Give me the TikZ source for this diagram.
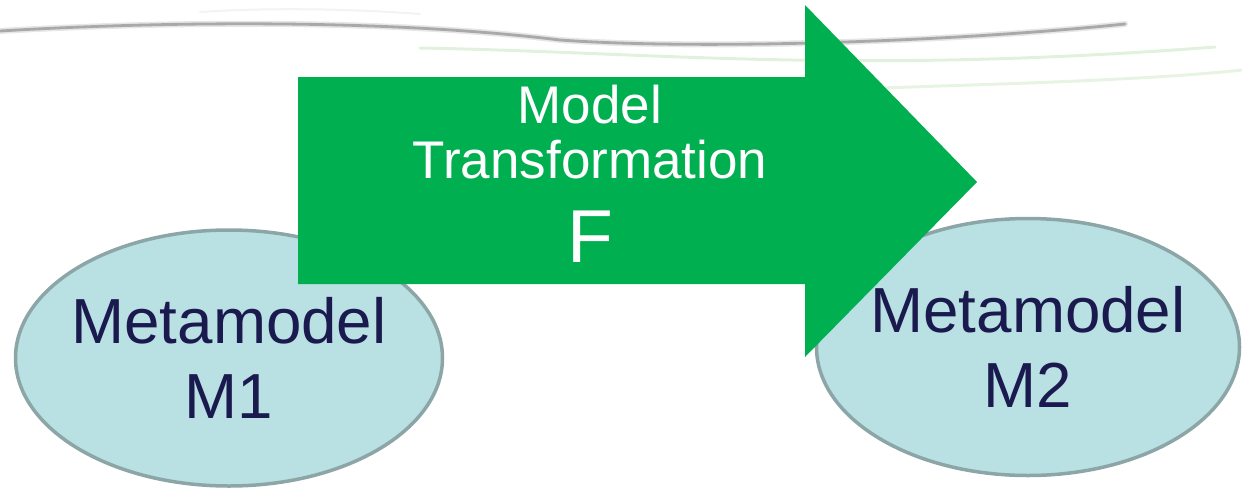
\documentclass[tikz,border=0pt]{standalone}
\usepackage{fontspec}
\setmainfont{Liberation Sans}
\definecolor{arrowgreen}{HTML}{00B050}
\definecolor{mmfill}{HTML}{B9E0E3}
\definecolor{mmedge}{HTML}{8CA6A7}
\definecolor{mmtext}{HTML}{1B1A4F}
\definecolor{swgray}{HTML}{9A9A9A}
\definecolor{swgreen}{HTML}{CFE8C8}
\usetikzlibrary{shapes.geometric}
\tikzset{
  metamodel/.style={ellipse, draw=mmedge, fill=mmfill, line width=3.5pt,
    inner sep=0pt},
  mmlabel/.style={text=mmtext, align=center, inner sep=0pt,
    font=\fontsize{63.7}{75}\selectfont},
  arrowtext/.style={text=white, anchor=base, inner sep=0pt},
  swoosh/.style={line cap=round, draw=swgray},
}
\begin{document}
\begin{tikzpicture}[x=1pt,y=-1pt]
  \useasboundingbox (0,0) rectangle (1242,491);

  % decorative swooshes across the top
  \draw[swoosh, line width=6pt, opacity=.25]
    (0,31) .. controls (150,22) and (380,18) .. (560,40)
    .. controls (700,50) and (950,42) .. (1125,24);
  \draw[swoosh, line width=2.8pt, opacity=.8]
    (0,31) .. controls (150,22) and (380,18) .. (560,40)
    .. controls (700,50) and (950,42) .. (1125,24);
  \draw[line width=3pt, draw=swgreen, opacity=.6, line cap=round]
    (420,48) .. controls (650,52) and (850,75) .. (1215,47);
  \draw[line width=3pt, draw=swgreen, opacity=.5, line cap=round]
    (880,88) .. controls (1000,84) and (1150,80) .. (1242,70);
  \draw[line width=2pt, draw=swgray, opacity=.12, line cap=round]
    (200,12) .. controls (260,8) and (340,8) .. (420,14);

  % the two metamodels
  \node[metamodel, minimum width=427pt, minimum height=256pt] (m1) at (229,358) {};
  \node[mmlabel] (m1t) at (m1.center) {Metamodel\\M1};
  \node[metamodel, minimum width=423pt, minimum height=257pt] (m2) at (1028,347) {};
  \node[mmlabel] (m2t) at (m2.center) {Metamodel\\M2};

  % transformation arrow
  \fill[arrowgreen] (298,77) -- (805,77) -- (805,5) -- (977,182)
    -- (805,357) -- (805,284) -- (298,284) -- cycle;
  \node[arrowtext, font=\fontsize{53}{55}\selectfont] (t1) at (590,123) {Model};
  \node[arrowtext, font=\fontsize{53}{55}\selectfont] (t2) at (590,178) {Transformation};
  \node[arrowtext, font=\fontsize{75}{80}\selectfont] (t3) at (590,262) {F};
\end{tikzpicture}
\end{document}
